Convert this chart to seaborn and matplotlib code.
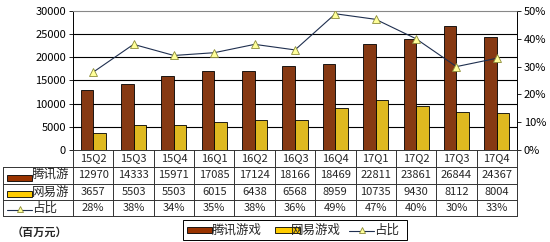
import numpy as np
import pandas as pd
import matplotlib
matplotlib.use("Agg")
import matplotlib.pyplot as plt
from matplotlib.patches import Rectangle
import seaborn as sns

quarters = ["15Q2", "15Q3", "15Q4", "16Q1", "16Q2", "16Q3", "16Q4", "17Q1", "17Q2", "17Q3", "17Q4"]
tencent = [12970, 14333, 15971, 17085, 17124, 18166, 18469, 22811, 23861, 26844, 24367]
netease = [3657, 5503, 5503, 6015, 6438, 6568, 8959, 10735, 9430, 8112, 8004]
share = [28, 38, 34, 35, 38, 36, 49, 47, 40, 30, 33]
series_names = ["腾讯游戏", "网易游戏", "占比"]
row_labels = ["腾讯游", "网易游", "占比"]
left_ticks = [0, 5000, 10000, 15000, 20000, 25000, 30000]
right_ticks = [0, 10, 20, 30, 40, 50]

sns.set_theme(style="white")
plt.rcParams['font.family'] = ['Noto Sans CJK SC', 'DejaVu Sans']

BROWN = "#993300"
YELLOW = "#FFCC00"
LINEC = "#1F2F4F"

df = pd.DataFrame({
    "q": quarters * 2,
    "v": tencent + netease,
    "s": [series_names[0]] * len(quarters) + [series_names[1]] * len(quarters),
})

W, H = 550, 242
fig = plt.figure(figsize=(W / 100, H / 100), dpi=100)
fig.patch.set_facecolor("white")

L, R, T, B = 73, 517, 11, 150
ax = fig.add_axes([L / W, 1 - B / H, (R - L) / W, (B - T) / H])
sns.barplot(data=df, x="q", y="v", hue="s", palette=[BROWN, YELLOW],
            width=0.62, gap=0, edgecolor="black", linewidth=0.6, ax=ax,
            legend=False, zorder=3)
ax.set_xlim(-0.5, len(quarters) - 0.5)
ax.set_ylim(0, 30000)
ax.set_yticks(left_ticks)
ax.set_yticklabels([str(t) for t in left_ticks], fontsize=8)
ax.set_xticks([])
ax.set_xlabel("")
ax.set_ylabel("")
ax.tick_params(axis="y", length=3, width=0.6, pad=2, colors="black", direction="out", left=True)
for t in left_ticks[1:-1]:
    ax.axhline(t, color="black", lw=0.8, zorder=1)
ax.spines["top"].set_color("#888888")
ax.spines["top"].set_linewidth(0.8)
ax.spines["left"].set_color("black")
ax.spines["left"].set_linewidth(0.7)
ax.spines["right"].set_color("black")
ax.spines["right"].set_linewidth(0.7)
ax.spines["bottom"].set_visible(False)

ax2 = ax.twinx()
x = np.arange(len(quarters))
sns.lineplot(x=x, y=share, ax=ax2, color=LINEC, lw=0.8, marker="^", markersize=5.5,
             markerfacecolor="#FFFF99", markeredgecolor="#8C8C3A", markeredgewidth=0.6,
             zorder=5)
ax2.set_ylim(0, 50)
ax2.set_yticks(right_ticks)
ax2.set_yticklabels([f"{t}%" for t in right_ticks], fontsize=8)
ax2.tick_params(axis="y", length=3, width=0.6, pad=2, colors="black", direction="out", right=True)
ax2.set_ylabel("")
for sp in ax2.spines.values():
    sp.set_visible(False)
ax2.set_xlim(-0.5, len(quarters) - 0.5)

# table drawn in pixel coordinates
tab = fig.add_axes([0, 0, 1, 1])
tab.set_xlim(0, W)
tab.set_ylim(H, 0)
tab.axis("off")
rows_y = [150, 167, 184, 200, 216]
cw = (R - L) / len(quarters)
lc = "#333333"
tab.plot([L, R], [rows_y[0], rows_y[0]], color=lc, lw=0.7)
for yy in rows_y[1:]:
    tab.plot([3, R], [yy, yy], color=lc, lw=0.7)
tab.plot([3, 3], [rows_y[1], rows_y[-1]], color=lc, lw=0.7)
for i in range(len(quarters) + 1):
    xx = L + i * cw
    tab.plot([xx, xx], [rows_y[0], rows_y[-1]], color=lc, lw=0.7)
fs = 8
for i, q in enumerate(quarters):
    cx = L + (i + 0.5) * cw
    tab.text(cx, (rows_y[0] + rows_y[1]) / 2, q, ha="center", va="center", fontsize=fs)
    tab.text(cx, (rows_y[1] + rows_y[2]) / 2, str(tencent[i]), ha="center", va="center", fontsize=fs)
    tab.text(cx, (rows_y[2] + rows_y[3]) / 2, str(netease[i]), ha="center", va="center", fontsize=fs)
    tab.text(cx, (rows_y[3] + rows_y[4]) / 2, f"{share[i]}%", ha="center", va="center", fontsize=fs)

for r, (lab, col) in enumerate(zip(row_labels, [BROWN, YELLOW, None])):
    cy = (rows_y[r + 1] + rows_y[r + 2]) / 2
    if col is not None:
        tab.add_patch(Rectangle((7, cy - 1), 25, 6, facecolor=col, edgecolor="black", lw=0.6))
    else:
        tab.plot([7, 32], [cy + 2, cy + 2], color=LINEC, lw=0.8)
        tab.plot([19.5], [cy + 1], marker="^", markersize=5, markerfacecolor="#FFFF99",
                 markeredgecolor="#8C8C3A", markeredgewidth=0.6)
    tab.text(32, cy, lab, ha="left", va="center", fontsize=9)

tab.text(12, 232, "（百万元）", ha="left", va="center", fontsize=8, fontweight="bold")

tab.add_patch(Rectangle((183, 220), 224, 20, facecolor="white", edgecolor="black", lw=0.7))
tab.add_patch(Rectangle((187, 227), 25, 6, facecolor=BROWN, edgecolor="black", lw=0.6))
tab.text(212, 230, series_names[0], ha="left", va="center", fontsize=9)
tab.add_patch(Rectangle((275, 227), 25, 6, facecolor=YELLOW, edgecolor="black", lw=0.6))
tab.text(291, 230, series_names[1], ha="left", va="center", fontsize=9)
tab.plot([349, 374], [231, 231], color=LINEC, lw=0.8)
tab.plot([361.5], [230], marker="^", markersize=5, markerfacecolor="#FFFF99",
         markeredgecolor="#8C8C3A", markeredgewidth=0.6)
tab.text(374, 230, series_names[2], ha="left", va="center", fontsize=9)

fig.savefig("out.png", dpi=100, facecolor="white")
